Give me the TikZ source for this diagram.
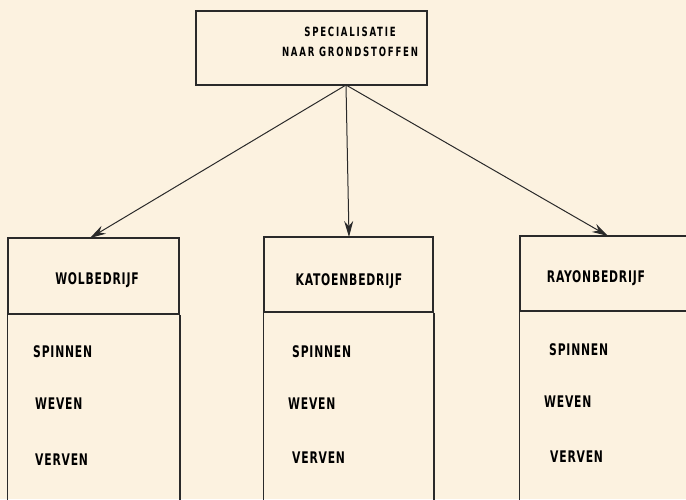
\documentclass[tikz,border=0pt]{standalone}
\usepackage{fontspec}
\usetikzlibrary{arrows.meta}
\newfontfamily\stencilfont[LetterSpace=5,FakeStretch=0.75]{DejaVu Sans Condensed Bold}
\newfontfamily\stenciltop[LetterSpace=14,FakeStretch=0.75]{DejaVu Sans Condensed Bold}
\definecolor{paper}{HTML}{FCF2E0}
\definecolor{ink}{HTML}{2A2A2A}
\begin{document}
\begin{tikzpicture}[x=1pt,y=-1pt,
  box/.style={draw=ink,line width=1.5pt,rectangle,inner sep=0pt},
  lbl/.style={font=\stencilfont\fontsize{16}{17}\selectfont,text=black,inner sep=0pt},
  toplbl/.style={font=\stenciltop\fontsize{12.7}{13}\selectfont,text=black,inner sep=0pt},
  link/.style={draw=ink,line width=1pt,-{Stealth[length=16pt,width=9pt]}}]
  % paper
  \fill[paper] (0,0) rectangle (686,499);
  \useasboundingbox (0,0) rectangle (686,499);

  % top box
  \node[box,minimum width=231pt,minimum height=74pt] (top) at (311.5,48) {};
  \node[toplbl] (t1) at (350,31.5) {SPECIALISATIE};
  \node[toplbl] (t2) at (350,52) {NAAR GRONDSTOFFEN};
  \coordinate (apex) at (346,85);

  % column headers
  \node[box,minimum width=171pt,minimum height=76pt] (wol) at (93.5,276) {};
  \node[box,minimum width=169pt,minimum height=75pt] (katoen) at (348.5,274.5) {};
  \node[box,minimum width=172pt,minimum height=75pt] (rayon) at (606,273.5) {};
  \node[lbl] (wolt) at (97,280) {WOLBEDRIJF};
  \node[lbl] (katoent) at (349,281) {KATOENBEDRIJF};
  \node[lbl] (rayont) at (596,278) {RAYONBEDRIJF};

  % column bodies, open below the page edge
  \draw[ink,line width=1.5pt] (wol.south west) -- ++(0,200) (wol.south east) -- ++(0,200);
  \draw[ink,line width=1.5pt] (katoen.south west) -- ++(0,200) (katoen.south east) -- ++(0,200);
  \draw[ink,line width=1.5pt] (rayon.south west) -- ++(0,200) (rayon.south east) -- ++(0,200);

  % activities
  \node[lbl,anchor=west] (w1) at (33,352) {SPINNEN};
  \node[lbl,anchor=west] (w2) at (35,404) {WEVEN};
  \node[lbl,anchor=west] (w3) at (35,460) {VERVEN};
  \node[lbl,anchor=west] (k1) at (292,352) {SPINNEN};
  \node[lbl,anchor=west] (k2) at (288,404) {WEVEN};
  \node[lbl,anchor=west] (k3) at (292,458) {VERVEN};
  \node[lbl,anchor=west] (r1) at (549,350) {SPINNEN};
  \node[lbl,anchor=west] (r2) at (544,402) {WEVEN};
  \node[lbl,anchor=west] (r3) at (550,457) {VERVEN};

  % arrows from the top box
  \coordinate (wolin) at (90,238);
  \coordinate (katoenin) at (349,237);
  \coordinate (rayonin) at (608,236);
  \draw[link] (apex) -- (wolin);
  \draw[link] (apex) -- (katoenin);
  \draw[link] (apex) -- (rayonin);
\end{tikzpicture}
\end{document}
